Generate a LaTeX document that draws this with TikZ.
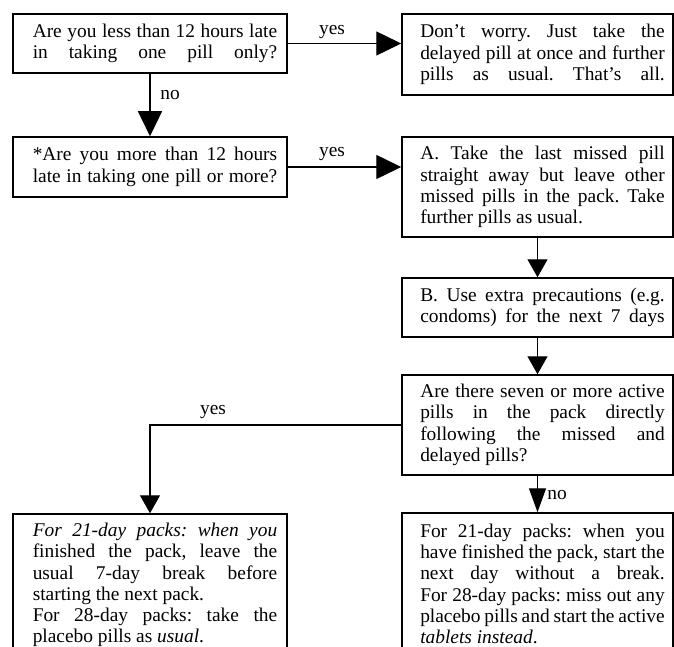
\documentclass[tikz,border=0pt]{standalone}
\usepackage{fontspec}
\setmainfont{Liberation Serif}
\usetikzlibrary{arrows.meta}
\frenchspacing
\newlength{\tw}\setlength{\tw}{244.5pt}
\newlength{\lp}\setlength{\lp}{10pt}
\newcommand{\jl}[1]{\hspace*{\lp}\makebox[\tw][s]{#1}}
\newcommand{\fl}[1]{\hspace*{\lp}\makebox[\tw][l]{#1}}
\tikzset{
  box/.style={draw, line width=1.5pt, rectangle, align=left, inner sep=0pt},
  lbox/.style={box, minimum width=274pt},
  rbox/.style={box, minimum width=271pt},
  conn/.style={line width=1.4pt},
  bigtip/.style={conn, -{Triangle[length=25pt,width=24pt]}},
  midtip/.style={conn, -{Triangle[length=18pt,width=20pt]}},
  nartip/.style={conn, -{Triangle[length=24pt,width=17pt]}},
  lab/.style={inner sep=0pt}
}
\begin{document}
\begin{tikzpicture}[x=1pt,y=-1pt,font=\fontsize{19.4}{21.3}\selectfont\frenchspacing]
\useasboundingbox (0,0) rectangle (674,647);
\node[lbox, minimum height=59pt] (q1) at (150,43.5)
  {\jl{Are you less than 12 hours late}\\\jl{in taking one pill only?}};
\node[rbox, minimum height=81pt] (d1) at (537.5,54.5)
  {\jl{Don’t worry. Just take the}\\\jl{delayed pill at once and further}\\\jl{pills as usual. That’s all.}};
\node[lbox, minimum height=60pt] (q2) at (150,167)
  {\jl{*Are you more than 12 hours}\\\jl{late in taking one pill or more?}};
\node[rbox, minimum height=100pt] (a) at (537.5,187)
  {\jl{A. Take the last missed pill}\\\jl{straight away but leave other}\\\jl{missed pills in the pack. Take}\\\fl{further pills as usual.}};
\node[rbox, minimum height=59pt] (b) at (537.5,307.5)
  {\jl{B. Use extra precautions (e.g.}\\\jl{condoms) for the next 7 days}};
\node[rbox, minimum height=100pt] (c) at (537.5,425)
  {\jl{Are there seven or more active}\\\jl{pills in the pack directly}\\\jl{following the missed and}\\\fl{delayed pills?}};
\node[lbox, minimum height=142pt] (r1) at (150,585)
  {\jl{\itshape For 21-day packs: when you}\\\jl{finished the pack, leave the}\\\jl{usual 7-day break before}\\\fl{starting the next pack.}\\\jl{For 28-day packs: take the}\\\fl{placebo pills as \textit{usual}.}};
\node[rbox, minimum height=142pt] (r2) at (537.5,584)
  {\jl{For 21-day packs: when you}\\\jl{have finished the pack, start the}\\\jl{next day without a break.}\\\jl{For 28-day packs: miss out any}\\\jl{placebo pills and start the active}\\\fl{\textit{tablets instead}.}};

\draw[bigtip] (q1.east) -- (q1.east -| d1.west);
\node[lab] (y1) at (332,32) {yes};
\draw[bigtip] (q1.south) -- (q2.north);
\node[lab] (n1) at (170,95) {no};
\draw[bigtip] (q2.east) -- (q2.east -| a.west);
\node[lab] (y2) at (332,154) {yes};
\draw[midtip] (a.south) -- (b.north);
\draw[midtip] (b.south) -- (c.north);
\draw[midtip] (c.west) -| (r1.north);
\node[lab] (y3) at (213,412) {yes};
\draw[nartip] (c.south) -- (r2.north);
\node[lab] (n2) at (557,495) {no};
\end{tikzpicture}
\end{document}
